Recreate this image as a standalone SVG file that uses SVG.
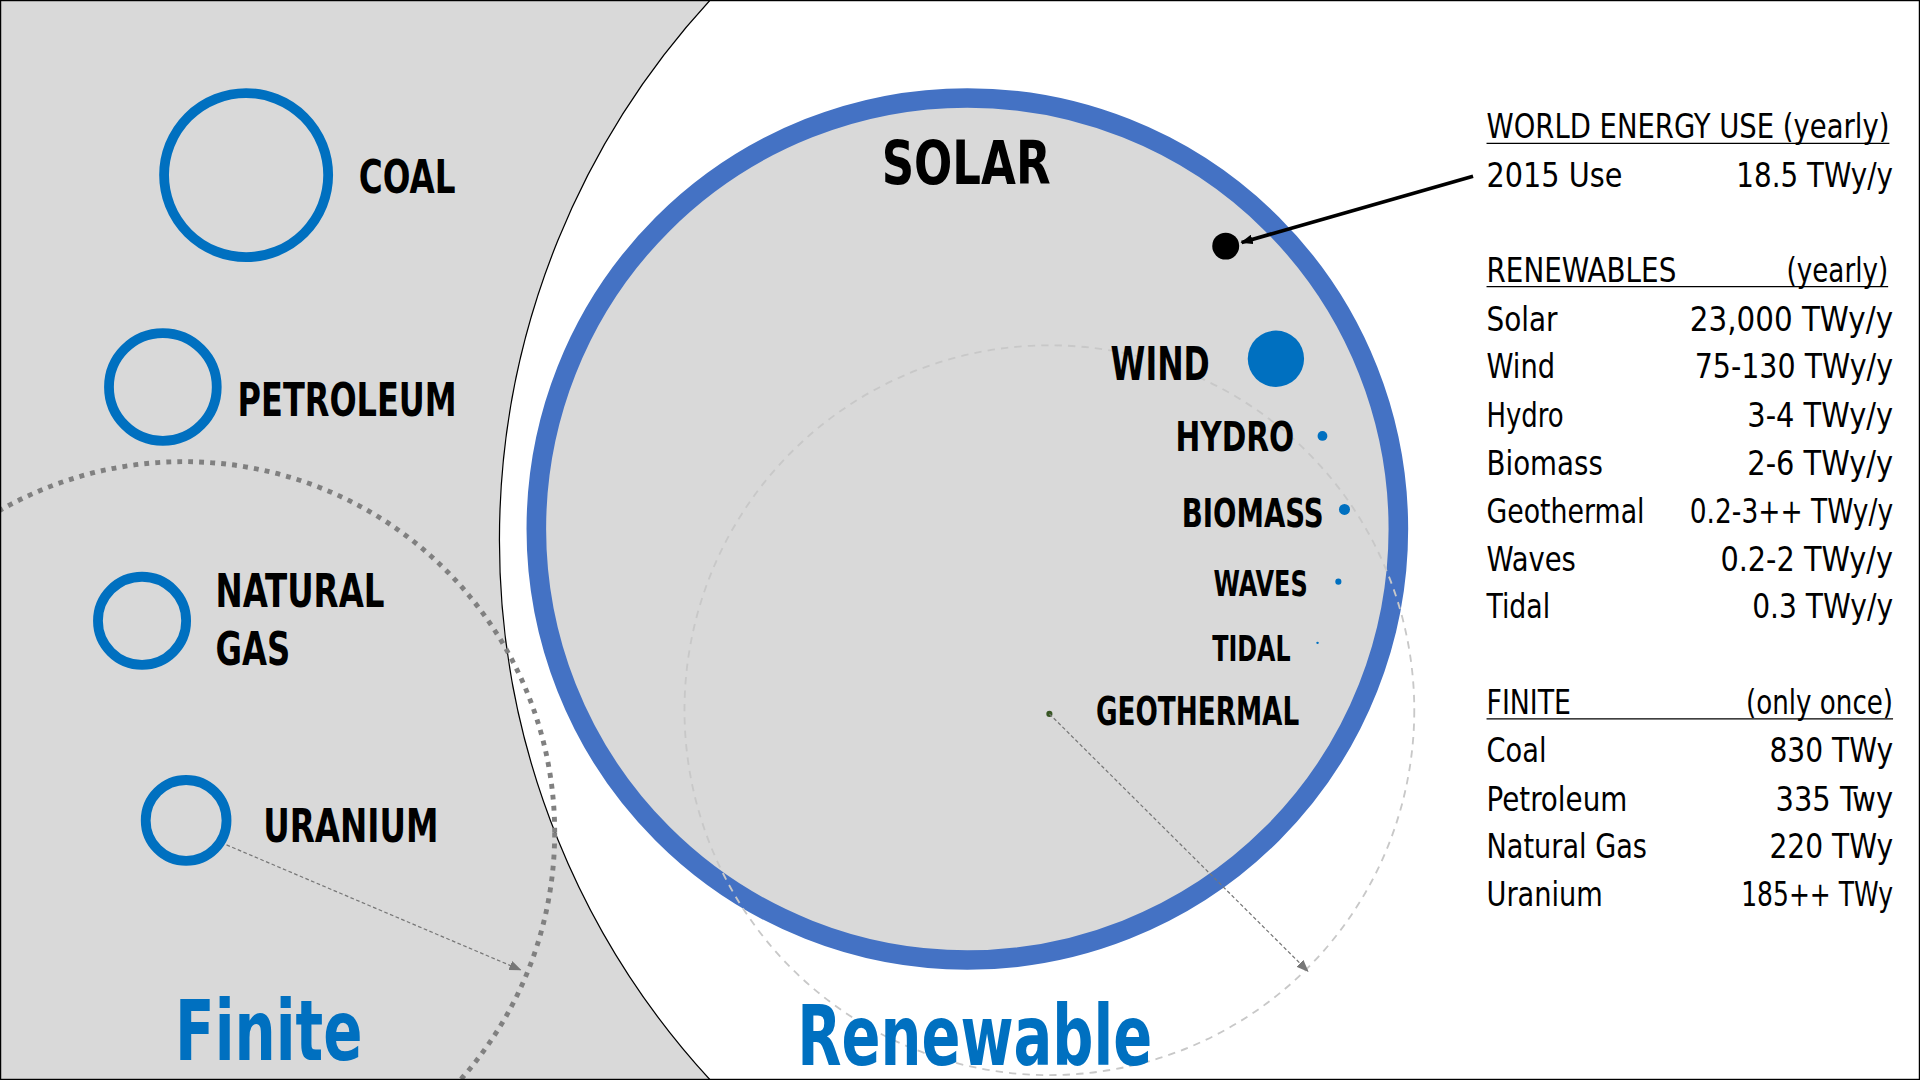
<svg xmlns="http://www.w3.org/2000/svg" width="1920" height="1080" viewBox="0 0 1920 1080">
<style>
.lb{font-family:"DejaVu Sans Condensed","DejaVu Sans",sans-serif;font-weight:bold;fill:#000}
.t{font-family:"DejaVu Sans Condensed","DejaVu Sans",sans-serif;font-size:28px;fill:#000}
.ring{fill:none;stroke:#0070C0;stroke-width:8}
.big{font-family:"DejaVu Sans Condensed","DejaVu Sans",sans-serif;font-weight:bold;font-size:68px;fill:#0070C0}
</style>
<defs>
<marker id="ah" markerWidth="10" markerHeight="8" refX="9" refY="4" orient="auto" markerUnits="userSpaceOnUse"><path d="M0,0 L10,4 L0,8 Z" fill="#000"/></marker>
<marker id="ag" markerWidth="10" markerHeight="8" refX="9" refY="4" orient="auto" markerUnits="userSpaceOnUse"><path d="M0,0 L10,4 L0,8 Z" fill="#777"/></marker>
</defs>
<rect width="1920" height="1080" fill="#fff"/>
<g transform="scale(1.22449)">
<path d="M0,0 L580,0 A651,651 0 0 0 580,882 L0,882 Z" fill="#d9d9d9" stroke="#000" stroke-width="1"/>
<circle cx="150" cy="680" r="303" fill="none" stroke="#808080" stroke-width="4" stroke-dasharray="4,5"/>
<g id="solar"><circle cx="790" cy="432" r="352" fill="#d9d9d9" stroke="#4472C4" stroke-width="16"/>
<text class="lb" x="720" y="150" font-size="50" textLength="138" lengthAdjust="spacingAndGlyphs">SOLAR</text></g>
<circle cx="857" cy="580" r="298" fill="none" stroke="#c8c8c8" stroke-width="1.5" stroke-dasharray="6,5"/>
<g id="coal"><circle class="ring" cx="201" cy="143" r="67"/><text class="lb" x="293" y="158" font-size="38" textLength="79" lengthAdjust="spacingAndGlyphs">COAL</text></g>
<g id="petroleum"><circle class="ring" cx="133" cy="316" r="44"/><text class="lb" x="194" y="340" font-size="38" textLength="179" lengthAdjust="spacingAndGlyphs">PETROLEUM</text></g>
<g id="natgas"><circle class="ring" cx="116" cy="507" r="36"/><text class="lb" x="176" y="496" font-size="38" textLength="138" lengthAdjust="spacingAndGlyphs">NATURAL</text><text class="lb" x="176" y="543" font-size="38" textLength="61" lengthAdjust="spacingAndGlyphs">GAS</text></g>
<g id="uranium"><circle class="ring" cx="152" cy="670" r="33"/><text class="lb" x="215" y="688" font-size="38" textLength="143" lengthAdjust="spacingAndGlyphs">URANIUM</text></g>
<g id="use"><circle cx="1001" cy="201" r="11" fill="#000"/></g>
<g id="wind"><circle cx="1042" cy="293" r="23" fill="#0070C0"/><text class="lb" x="907" y="310" font-size="38" textLength="81" lengthAdjust="spacingAndGlyphs">WIND</text></g>
<g id="hydro"><circle cx="1080" cy="356" r="4" fill="#0070C0"/><text class="lb" x="960" y="368" font-size="34" textLength="97" lengthAdjust="spacingAndGlyphs">HYDRO</text></g>
<g id="biomass"><circle cx="1098" cy="416" r="4.5" fill="#0070C0"/><text class="lb" x="965" y="430" font-size="32" textLength="116" lengthAdjust="spacingAndGlyphs">BIOMASS</text></g>
<g id="waves"><circle cx="1093" cy="475" r="2.5" fill="#0070C0"/><text class="lb" x="991" y="487" font-size="29" textLength="77" lengthAdjust="spacingAndGlyphs">WAVES</text></g>
<g id="tidal"><circle cx="1076" cy="525" r="1" fill="#0070C0"/><text class="lb" x="990" y="540" font-size="29" textLength="64" lengthAdjust="spacingAndGlyphs">TIDAL</text></g>
<g id="geothermal"><circle cx="857" cy="583" r="2.5" fill="#375623"/><text class="lb" x="895" y="592" font-size="32" textLength="166" lengthAdjust="spacingAndGlyphs">GEOTHERMAL</text></g>
<g id="connectors">
<line x1="1203" y1="144" x2="1014" y2="198" stroke="#000" stroke-width="3" marker-end="url(#ah)"/>
<line x1="185" y1="690" x2="425" y2="792" stroke="#777" stroke-width="1" stroke-dasharray="3,2" marker-end="url(#ag)"/>
<line x1="857" y1="583" x2="1068" y2="793" stroke="#777" stroke-width="1" stroke-dasharray="3,2" marker-end="url(#ag)"/>
</g>
<text class="big" x="143" y="866" textLength="153" lengthAdjust="spacingAndGlyphs">Finite</text>
<text class="big" x="651" y="870" textLength="290" lengthAdjust="spacingAndGlyphs">Renewable</text>
<g id="table" style="lengthAdjust:spacingAndGlyphs">
<text class="t" x="1214" y="113" textLength="329" lengthAdjust="spacingAndGlyphs">WORLD ENERGY USE (yearly)</text><line x1="1214" y1="117" x2="1543" y2="117" stroke="#000"/>
<text class="t" x="1214" y="153" textLength="111" lengthAdjust="spacingAndGlyphs">2015 Use</text><text class="t" x="1546" y="153" text-anchor="end" textLength="128" lengthAdjust="spacingAndGlyphs">18.5 TWy/y</text>
<text class="t" x="1214" y="230" textLength="155" lengthAdjust="spacingAndGlyphs">RENEWABLES</text><text class="t" x="1542" y="230" text-anchor="end" textLength="83" lengthAdjust="spacingAndGlyphs">(yearly)</text><line x1="1214" y1="234" x2="1542" y2="234" stroke="#000"/>
<text class="t" x="1214" y="270" textLength="58" lengthAdjust="spacingAndGlyphs">Solar</text><text class="t" x="1546" y="270" text-anchor="end" textLength="166" lengthAdjust="spacingAndGlyphs">23,000 TWy/y</text>
<text class="t" x="1214" y="309" textLength="56" lengthAdjust="spacingAndGlyphs">Wind</text><text class="t" x="1546" y="309" text-anchor="end" textLength="162" lengthAdjust="spacingAndGlyphs">75-130 TWy/y</text>
<text class="t" x="1214" y="349" textLength="63" lengthAdjust="spacingAndGlyphs">Hydro</text><text class="t" x="1546" y="349" text-anchor="end" textLength="119" lengthAdjust="spacingAndGlyphs">3-4 TWy/y</text>
<text class="t" x="1214" y="388" textLength="95" lengthAdjust="spacingAndGlyphs">Biomass</text><text class="t" x="1546" y="388" text-anchor="end" textLength="119" lengthAdjust="spacingAndGlyphs">2-6 TWy/y</text>
<text class="t" x="1214" y="427" textLength="129" lengthAdjust="spacingAndGlyphs">Geothermal</text><text class="t" x="1546" y="427" text-anchor="end" textLength="166" lengthAdjust="spacingAndGlyphs">0.2-3++ TWy/y</text>
<text class="t" x="1214" y="466" textLength="73" lengthAdjust="spacingAndGlyphs">Waves</text><text class="t" x="1546" y="466" text-anchor="end" textLength="141" lengthAdjust="spacingAndGlyphs">0.2-2 TWy/y</text>
<text class="t" x="1214" y="505" textLength="52" lengthAdjust="spacingAndGlyphs">Tidal</text><text class="t" x="1546" y="505" text-anchor="end" textLength="115" lengthAdjust="spacingAndGlyphs">0.3 TWy/y</text>
<text class="t" x="1214" y="583" textLength="69" lengthAdjust="spacingAndGlyphs">FINITE</text><text class="t" x="1546" y="583" text-anchor="end" textLength="120" lengthAdjust="spacingAndGlyphs">(only once)</text><line x1="1214" y1="587" x2="1546" y2="587" stroke="#000"/>
<text class="t" x="1214" y="622" textLength="49" lengthAdjust="spacingAndGlyphs">Coal</text><text class="t" x="1546" y="622" text-anchor="end" textLength="101" lengthAdjust="spacingAndGlyphs">830 TWy</text>
<text class="t" x="1214" y="662" textLength="115" lengthAdjust="spacingAndGlyphs">Petroleum</text><text class="t" x="1546" y="662" text-anchor="end" textLength="96" lengthAdjust="spacingAndGlyphs">335 Twy</text>
<text class="t" x="1214" y="701" textLength="131" lengthAdjust="spacingAndGlyphs">Natural Gas</text><text class="t" x="1546" y="701" text-anchor="end" textLength="101" lengthAdjust="spacingAndGlyphs">220 TWy</text>
<text class="t" x="1214" y="740" textLength="95" lengthAdjust="spacingAndGlyphs">Uranium</text><text class="t" x="1546" y="740" text-anchor="end" textLength="124" lengthAdjust="spacingAndGlyphs">185++ TWy</text>
</g>
<rect x="0.5" y="0.5" width="1567" height="881" fill="none" stroke="#000" stroke-width="1"/>
</g>
</svg>
